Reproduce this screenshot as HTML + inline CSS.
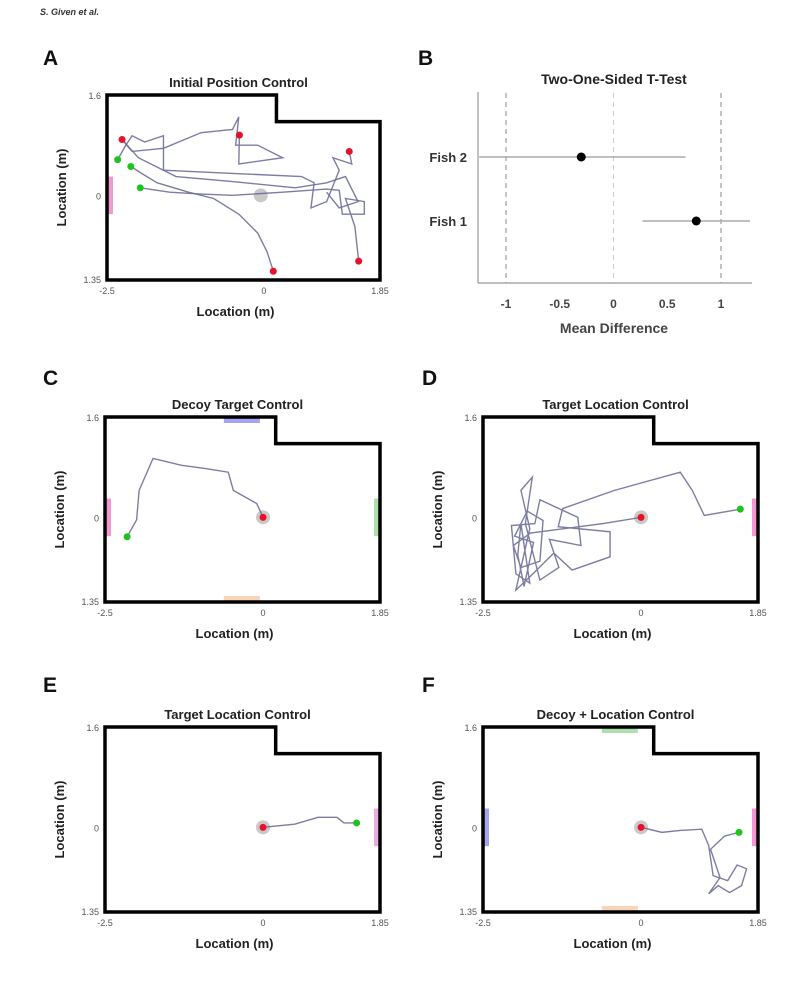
<!DOCTYPE html>
<html><head><meta charset="utf-8"><style>
body{margin:0;background:#fff;width:790px;height:996px;overflow:hidden;font-family:"Liberation Sans",Arial,sans-serif}
svg text{font-family:"Liberation Sans",Arial,sans-serif}
</style></head><body>
<svg id="fig" width="790" height="996" viewBox="0 0 790 996">
<text x="40" y="15" font-family="Liberation Serif" font-size="9" font-style="italic" font-weight="bold" fill="#333">S. Given et al.</text>
</svg>
<script>
// ---- Panel B data ----
const fishLabels = ["Fish 2", "Fish 1"];
const fishMeans = [-0.3, 0.77];
const fishLow = [-1.25, 0.27];
const fishHigh = [0.67, 1.27];
const bTicks = [-1, -0.5, 0, 0.5, 1];
const bTickLabels = ["-1", "-0.5", "0", "0.5", "1"];

// ---- Trajectory data (meters) ----
const trajA1 = [[-1.97,0.12],[-1.5,0.05],[-1.0,0.02],[-0.5,0.0],[0.3,0.05],[1.0,0.1],[1.2,0.08],[1.25,-0.3],[1.6,-0.3],[1.6,-0.1],[1.3,-0.05],[1.45,-0.5],[1.51,-1.05]];
const trajA2 = [[-2.12,0.46],[-1.95,0.35],[-1.7,0.2],[-1.2,0.05],[-0.8,-0.05],[-0.4,-0.3],[-0.1,-0.6],[0.05,-0.9],[0.15,-1.21]];
const trajA3 = [[-2.33,0.57],[-2.2,0.8],[-2.1,0.95],[-1.9,0.85],[-1.6,0.95],[-1.6,0.4],[-0.5,0.35],[0.6,0.3],[0.8,0.2],[0.75,-0.2],[1.0,-0.1],[1.2,0.4],[1.1,0.6],[1.4,0.5],[1.36,0.7]];
const trajA4 = [[-2.26,0.89],[-2.1,0.7],[-1.6,0.75],[-1.0,1.0],[-0.5,1.05],[-0.4,1.25],[-0.45,0.8],[-0.1,0.8],[0.1,0.7],[0.3,0.6],[-0.4,0.5],[-0.39,0.96]];
const trajA5 = [[-2.26,0.89],[-2.0,0.6],[-1.4,0.3],[-0.5,0.22],[0.5,0.12],[1.0,0.2],[1.3,0.3],[1.5,-0.1],[1.2,-0.2],[1.0,0.05]];
const startsA = [[-1.97,0.12],[-2.12,0.46],[-2.33,0.57]];
const endsA = [[-2.26,0.89],[-0.39,0.96],[1.36,0.7],[1.51,-1.05],[0.15,-1.21]];
const trajC = [[-2.15,-0.31],[-2.0,-0.04],[-1.96,0.43],[-1.74,0.94],[-1.29,0.83],[-0.92,0.78],[-0.55,0.72],[-0.47,0.43],[-0.33,0.35],[-0.1,0.22],[0,0]];
const trajD = [[1.57,0.13],[1.0,0.03],[0.81,0.43],[0.62,0.72],[-0.42,0.43],[-1.24,0.14],[-1.31,-0.15],[-0.49,-0.23],[-0.49,-0.63],[-1.09,-0.84],[-1.38,-0.57],[-1.76,-0.95],[-1.98,-1.16],[-1.76,-0.18],[-1.9,0.43],[-1.72,0.64],[-1.83,-0.1],[-1.6,-1.0],[-1.3,-0.8],[-1.45,-0.35],[-0.95,-0.45],[-1.0,0.0],[-1.6,0.28],[-1.68,-0.1],[-2.05,-0.13],[-1.98,-0.9],[-1.76,-1.05],[-1.9,-0.1],[-1.95,-0.6],[-1.85,-1.1],[-1.7,-0.4],[-2.0,-0.3],[-1.8,0.1],[-1.55,-0.05],[-1.6,-0.7],[-1.9,-0.8],[-2.02,-0.45],[-1.75,-0.25],[-0.6,-0.1],[0,0]];
const trajE = [[0,0],[0.5,0.05],[0.87,0.16],[1.17,0.16],[1.28,0.07],[1.48,0.07]];
const trajF = [[0,0],[0.33,-0.08],[0.62,-0.05],[0.96,-0.03],[1.07,-0.29],[1.14,-0.77],[1.37,-0.85],[1.52,-0.6],[1.67,-0.66],[1.59,-0.93],[1.4,-1.04],[1.22,-0.93],[1.07,-1.06],[1.25,-0.8],[1.1,-0.35],[1.32,-0.14],[1.55,-0.08]];

const NS = "http://www.w3.org/2000/svg";
const svg = document.getElementById("fig");
function mk(tag, attrs, parent) {
  const e = document.createElementNS(NS, tag);
  for (const k in attrs) e.setAttribute(k, attrs[k]);
  (parent || svg).appendChild(e);
  return e;
}
function txt(x, y, s, size, weight, anchor, parent, fill) {
  const t = mk("text", {x: x, y: y, "font-size": size, "font-weight": weight || "normal", "text-anchor": anchor || "middle", fill: fill || "#111"}, parent);
  t.textContent = s;
  return t;
}

function arena(letter, lx, ly, L, T, R, B, title, opts) {
  const g = mk("g", {});
  
  
  const sx = m => L + (m + 2.5) / 4.35 * (R - L);
  const sy = m => T + (1.6 - m) / 2.95 * (B - T);
  const pl = txt(lx, ly, letter, 21, "bold", "start", g);
  
  
  const tt = txt((L + R) / 2 - 5, T - 8, title, 13, "bold", "middle", g, "#222");
  
  
  (opts.rects || []).forEach(r => {
    let x, y, w, h;
    if (r.side === "left") { x = L + 1; y = sy(0.3); w = 5; h = sy(-0.3) - sy(0.3); }
    if (r.side === "right") { x = R - 6; y = sy(0.3); w = 5; h = sy(-0.3) - sy(0.3); }
    if (r.side === "top") { x = sx(-0.62); y = T + 1; w = sx(-0.05) - sx(-0.62); h = 5; }
    if (r.side === "bottom") { x = sx(-0.62); y = B - 6; w = sx(-0.05) - sx(-0.62); h = 5; }
    const re = mk("rect", {x: x, y: y, width: w, height: h, fill: r.color, opacity: 0.8}, g);
    
    
  });
  const nx = sx(0.2), ny = sy(1.175);
  const ol = mk("path", {d: `M${L},${T} H${nx} V${ny} H${R} V${B} H${L} Z`, fill: "none", stroke: "#000", "stroke-width": 3.5}, g);
  
  
  if (opts.halo) {
    const h = mk("circle", {cx: sx(opts.halo[0]), cy: sy(opts.halo[1]), r: 7, fill: "#bbb", opacity: 0.8}, g);
    
    
  }
  (opts.trajs || []).forEach(tr => {
    const p = mk("polyline", {points: tr.map(q => sx(q[0]) + "," + sy(q[1])).join(" "), fill: "none", stroke: "#6f6f9a", "stroke-width": 1.4, opacity: 0.9}, g);
    
    
  });
  (opts.starts || []).forEach(q => {
    const c = mk("circle", {cx: sx(q[0]), cy: sy(q[1]), r: 3.5, fill: "#1ec41e"}, g);
    
    
  });
  (opts.ends || []).forEach(q => {
    const c = mk("circle", {cx: sx(q[0]), cy: sy(q[1]), r: 3.5, fill: "#e8102a"}, g);
    
    
  });
  [["1.6", T + 4], ["0", sy(0) + 4], ["1.35", B + 3]].forEach(a => {
    const t = txt(L - 6, a[1], a[0], 9, "normal", "end", g, "#555");
    
    
  });
  [["-2.5", L], ["0", sx(0)], ["1.85", R]].forEach(a => {
    const t = txt(a[1], B + 14, a[0], 9, "normal", "middle", g, "#555");
    
    
  });
  const xl = txt((L + R) / 2 - 8, B + 36, "Location (m)", 13, "bold", "middle", g, "#222");
  
  
  const yl = txt(0, 0, "Location (m)", 13, "bold", "middle", g, "#222");
  yl.setAttribute("transform", `translate(${L - 41},${(T + B) / 2}) rotate(-90)`);
  
  
}

arena("A", 43, 65, 107, 95, 380, 280, "Initial Position Control", {
  rects: [{side: "left", color: "#f07ec8"}], halo: [-0.05, 0],
  trajs: [trajA1, trajA2, trajA3, trajA4, trajA5], starts: startsA, ends: endsA});
arena("C", 43, 385, 105, 417, 380, 602, "Decoy Target Control", {
  rects: [{side: "left", color: "#f07ec8"}, {side: "right", color: "#9ad89a"}, {side: "top", color: "#8d8df0"}, {side: "bottom", color: "#f6c9a8"}],
  halo: [0, 0], trajs: [trajC], starts: [trajC[0]], ends: [[0, 0]]});
arena("D", 422, 385, 483, 417, 758, 602, "Target Location Control", {
  rects: [{side: "right", color: "#f07ec8"}], halo: [0, 0],
  trajs: [trajD], starts: [trajD[0]], ends: [[0, 0]]});
arena("E", 43, 692, 105, 727, 380, 912, "Target Location Control", {
  rects: [{side: "right", color: "#e39ad8"}], halo: [0, 0],
  trajs: [trajE], starts: [trajE[trajE.length - 1]], ends: [[0, 0]]});
arena("F", 422, 692, 483, 727, 758, 912, "Decoy + Location Control", {
  rects: [{side: "left", color: "#8d8df0"}, {side: "right", color: "#f07ec8"}, {side: "top", color: "#9ad89a"}, {side: "bottom", color: "#f6c9a8"}],
  halo: [0, 0], trajs: [trajF], starts: [trajF[trajF.length - 1]], ends: [[0, 0]]});

(function () {
  const g = mk("g", {});
  
  
  const x0 = 613.5, k = 107.5;
  const sx = v => x0 + v * k;
  const rowY = [157, 221];
  const pl = txt(418, 65, "B", 21, "bold", "start", g);
  
  
  const tt = txt(614, 84, "Two-One-Sided T-Test", 14, "bold", "middle", g, "#222");
  
  
  [[-1, "#888"], [0, "#ccc"], [1, "#888"]].forEach(a => {
    const l = mk("line", {x1: sx(a[0]), x2: sx(a[0]), y1: 93, y2: 283, stroke: a[1], "stroke-width": 1, "stroke-dasharray": "5,4"}, g);
    
    
  });
  const ya = mk("line", {x1: 478, x2: 478, y1: 92, y2: 283, stroke: "#999", "stroke-width": 1.2}, g);
  
  
  const xa = mk("line", {x1: 478, x2: 752, y1: 283, y2: 283, stroke: "#999", "stroke-width": 1.2}, g);
  
  
  fishLabels.forEach((lab, i) => {
    const ci = mk("line", {x1: sx(fishLow[i]), x2: sx(fishHigh[i]), y1: rowY[i], y2: rowY[i], stroke: "#aaa", "stroke-width": 1.6}, g);
    
    
    const d = mk("circle", {cx: sx(fishMeans[i]), cy: rowY[i], r: 4.5, fill: "#000"}, g);
    
    
    const t = txt(467, rowY[i] + 5, lab, 13, "bold", "end", g, "#333");
    
    
  });
  bTicks.forEach((v, i) => {
    const t = txt(sx(v), 308, bTickLabels[i], 12, "bold", "middle", g, "#444");
    
    
  });
  const xl = txt(614, 333, "Mean Difference", 14, "bold", "middle", g, "#444");
  
  
})();
</script>
</body></html>
